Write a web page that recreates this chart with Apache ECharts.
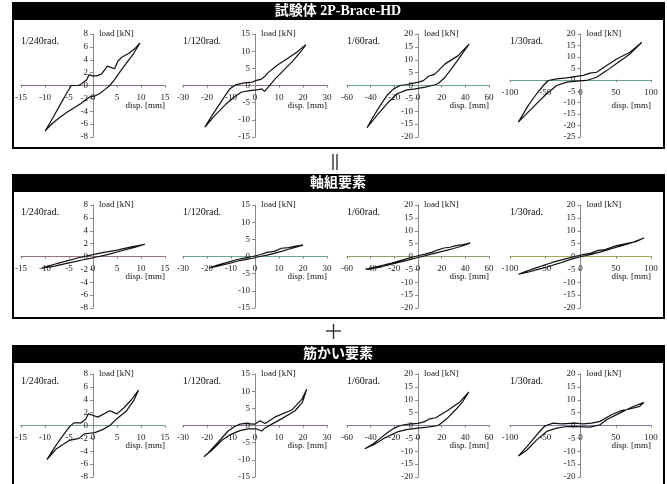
<!DOCTYPE html>
<html>
<head>
<meta charset="utf-8">
<script src="https://cdn.jsdelivr.net/npm/echarts@6/dist/echarts.min.js"></script>
<style>
html, body { margin: 0; padding: 0; background: #fff; }
#main { width: 667px; height: 484px; }
</style>
</head>
<body>
<div id="main"></div>
<script>
// section titles and panel labels
var sectionTitles = ['試験体 2P-Brace-HD', '軸組要素', '筋かい要素'];
var radLabels = ['1/240rad.', '1/120rad.', '1/60rad.', '1/30rad.'];

// x axis: +/- limit and tick step per drift level
var xLimits = [15, 30, 60, 100];
var xSteps = [5, 10, 20, 50];

// y axis [min, max, step] per section / drift level
var yTicks = [
  [[-8, 8, 2], [-15, 15, 5], [-20, 20, 5], [-25, 20, 5]],
  [[-8, 8, 2], [-15, 15, 5], [-20, 20, 5], [-20, 20, 5]],
  [[-8, 8, 2], [-15, 15, 5], [-20, 20, 5], [-20, 20, 5]]
];

// hysteresis loops [disp mm, load kN] -- specimen
var specimen240 = [[9.8,6.6],[8.8,5.8],[7.5,5.0],[6,4.4],[5.2,3.8],[4.5,2.6],[3.0,3.0],[1.8,1.8],[0.8,1.5],[-0.2,1.5],[-0.8,1.7],[-1.3,0.9],[-2.3,0.3],[-3,0],[-4.5,0],[-5.5,-1.2],[-7,-3.2],[-8.5,-5.2],[-10,-7.1],
  [-8.5,-5.9],[-7,-5.0],[-5.5,-4.2],[-4,-3.5],[-2.5,-2.8],[-1.5,-2.2],[-0.5,-1.7],[0.5,-1.6],[1.5,-1.2],[2.5,-0.6],[3.5,0],[4.5,0.9],[5.5,2.0],[7,3.5],[8.5,5.0],[9.8,6.6]];
var specimen120 = [[21.2,11.9],[17.4,9.7],[13.2,7.7],[9.1,5.8],[5.2,3.6],[4.2,2.7],[2.5,1.8],[0.5,1.5],[-1,1.0],[-2.5,0.9],[-5,0.7],[-8,0.2],[-10.5,-1],[-12.5,-3.0],[-14.6,-5.3],[-17.4,-8.2],[-20.9,-12.1],
  [-16.7,-8.7],[-11.9,-5.3],[-8.4,-3.2],[-5.6,-1.9],[-2.1,-1.5],[0.7,-1.3],[2.8,-1.0],[4,-1.7],[5.5,-0.5],[8.5,2],[11.9,4.4],[16,7.3],[19.5,10.2],[21.2,11.9]];
var specimen60 = [[43.1,16.1],[34,11.6],[22.9,8.4],[15.9,5.2],[13.9,4.3],[8.8,3.6],[4.6,1.9],[0.4,1.3],[-3.8,0.9],[-9.4,0.4],[-15,0],[-20.6,-1.3],[-26.3,-3.9],[-31.9,-7.7],[-38.9,-12.9],[-43.1,-16.4],
  [-34.7,-11.6],[-26.3,-7.1],[-17.8,-3.2],[-9.4,-1.7],[-2.4,-1.3],[6,-0.6],[14.5,0.3],[17.3,0.9],[22.9,3.2],[31.3,8.4],[38.3,12.9],[43.1,16.1]];
var specimen30 = [[86.8,16.3],[70.2,12],[51.3,9.1],[37.1,6.2],[22.9,3.3],[13.5,2.9],[4,1.9],[-7.8,1.4],[-19.6,0.8],[-33.8,0.4],[-45.6,-0.3],[-52.7,-2.5],[-62.2,-6.1],[-74,-11.2],[-88.2,-18.5],
  [-76.4,-14.8],[-62.2,-10.4],[-48,-6.1],[-33.8,-2.5],[-19.6,-1],[-5.4,-0.6],[8.7,-0.3],[22.9,1.1],[37.1,4],[53.7,7.7],[70.2,11.3],[86.8,16.3]];

// frame element
var frame240 = [[10.8,1.9],[8,1.5],[5,1.0],[2,0.6],[0,0.3],[-3,-0.2],[-6,-0.8],[-9,-1.4],[-10.7,-1.8],
  [-8,-1.5],[-5,-1.0],[-2,-0.5],[0,-0.2],[3,0.3],[6,0.9],[9,1.5],[10.8,1.9]];
var frame120 = [[20,3.3],[17,3.0],[14,2.6],[11,2.4],[8,1.5],[5,1.2],[2,0.5],[-1,0],[-4,-0.4],[-7,-0.8],[-10,-1.4],[-13,-2.0],[-16,-2.6],[-19,-3.3],
  [-16,-2.9],[-13,-2.4],[-10,-1.9],[-7,-1.3],[-4,-0.9],[-1,-0.5],[2,0],[5,0.4],[8,0.9],[11,1.5],[14,2.1],[17,2.7],[20,3.3]];
var frame60 = [[44,5.2],[38,4.6],[32,4.2],[27,3.6],[22,3.3],[17,2.6],[12,1.7],[6,0.9],[0,0.3],[-6,-0.4],[-12,-1.2],[-18,-2],[-24,-2.8],[-30,-3.4],[-37,-4.2],[-44,-5.0],
  [-37,-4.5],[-30,-3.9],[-24,-3.2],[-18,-2.5],[-12,-1.8],[-6,-1.1],[0,-0.4],[6,0.3],[12,1.0],[18,1.7],[24,2.4],[30,3.1],[36,3.9],[44,5.2]];
var frame30 = [[90,7.2],[80,5.9],[65,5.0],[50,4.1],[35,2.7],[25,2.4],[15,1.3],[5,0.8],[-5,0.2],[-20,-0.8],[-35,-1.9],[-50,-3.2],[-65,-4.6],[-80,-6],[-88,-6.9],
  [-75,-6.1],[-60,-5.0],[-45,-3.9],[-30,-2.6],[-15,-1.2],[0,-0.1],[15,0.8],[30,1.9],[45,3.1],[60,4.3],[75,5.6],[90,7.2]];

// brace element
var brace240 = [[9.5,5.5],[8,4],[6.5,2.8],[5,1.8],[3.5,2.3],[1,1.3],[-0.5,1.7],[-1,1.8],[-1.5,1.0],[-2.5,0.4],[-4,0.4],[-5,-0.3],[-6.5,-1.8],[-8,-3.4],[-9.6,-5.3],
  [-7.6,-3.6],[-4.9,-2.3],[-2.9,-2],[-1.8,-1.3],[-0.8,-1.2],[0.4,-1.1],[2.1,-0.6],[3.5,0],[4.9,1],[6.9,2.2],[8.5,3.9],[9.5,5.5]];
var brace120 = [[21.5,10.5],[19.5,7.6],[15.3,4.5],[8.4,2.5],[4.2,0.6],[2.1,1.4],[0,0.4],[-2,0.5],[-3.9,0.6],[-6.3,0.4],[-8.4,-0.3],[-11.2,-1.6],[-15.3,-4.8],[-19.5,-8],[-21.3,-9.1],
  [-18.1,-7.3],[-13.9,-4.4],[-9.8,-2.5],[-6.3,-1.5],[-2.8,-1],[0.7,-1],[2.8,-1.6],[4.2,-0.7],[7,0.4],[11.2,2],[16.7,4.3],[19.8,6.8],[21.5,10.5]];
var brace60 = [[43,13],[35,9],[25,5.8],[15,3.0],[10,2.6],[5,1.4],[0,0.8],[-8,0.5],[-15,0],[-20,-1],[-26,-2.8],[-32,-5],[-38,-7.2],[-45,-9],
  [-37,-7.4],[-28,-4.8],[-18,-2.6],[-10,-1.6],[0,-1.0],[8,-0.6],[15,-0.2],[18,0.3],[24,2.5],[32,6.2],[38,9.4],[43,13]];
var brace30 = [[90,9],[84,7.4],[70,6.4],[58,5.8],[44,4.2],[27.7,1.6],[15.8,0.9],[4,0.6],[-7.8,0.9],[-26.7,0.6],[-38.5,0.9],[-50.4,-0.1],[-62,-3.6],[-76,-8.2],[-88,-11.8],
  [-76,-9.5],[-62,-5.6],[-48,-2.3],[-33.8,-1],[-19.6,-0.4],[-5,-0.4],[13.5,-0.6],[27.7,0.3],[37,2.2],[56,4.9],[75,7.4],[90,9]];

var loops = [
  [specimen240, specimen120, specimen60, specimen30],
  [frame240, frame120, frame60, frame30],
  [brace240, brace120, brace60, brace30]
];

// layout
var gridLeft = [21, 183, 347, 510];
var gridWidth = [144, 144, 142, 141];
var barTop = [2, 174, 345];
var plotTop = [34, 205, 374];
var plotHeight = 103;
var boxBottom = [148, 318, 520];
var zeroLineColors = [
  ['#8d6a93', '#8d6a93', '#6aa396', '#6aa396'],
  ['#9a6a86', '#6aa396', '#8aa36a', '#a9a360'],
  ['#6aa396', '#8d6a93', '#8d7aa0', '#7a72a8']
];
var serif = '"Liberation Serif", "Times New Roman", serif';

var chart = echarts.init(document.getElementById('main'));
var grids = [], xAxes = [], yAxes = [], series = [], graphics = [];

for (var s = 0; s < 3; s++) {
  graphics.push({
    type: 'rect', shape: { x: 12, y: barTop[s], width: 653, height: 17 },
    style: { fill: '#000' }
  });
  graphics.push({
    type: 'text', x: 338, y: barTop[s] + 9,
    style: {
      text: sectionTitles[s], fill: '#fff', fontSize: 14, fontWeight: 'bold',
      fontFamily: '"Liberation Serif", "Noto Sans CJK JP", sans-serif',
      align: 'center', verticalAlign: 'middle'
    }
  });
  graphics.push({
    type: 'rect', shape: { x: 13, y: barTop[s] + 17, width: 651, height: boxBottom[s] - barTop[s] - 17 },
    style: { fill: 'none', stroke: '#000', lineWidth: 2 }
  });

  for (var p = 0; p < 4; p++) {
    var i = s * 4 + p;
    var yr = yTicks[s][p];
    var gTop = plotTop[s];
    // move the axes onto the zero lines (offset is measured inwards from the grid edge)
    var xAxisShift = -plotHeight * (0 - yr[0]) / (yr[1] - yr[0]);
    var yAxisShift = -gridWidth[p] / 2;
    grids.push({ left: gridLeft[p], top: gTop, width: gridWidth[p], height: plotHeight });
    xAxes.push({
      gridIndex: i, type: 'value', position: 'bottom', offset: xAxisShift,
      min: -xLimits[p], max: xLimits[p], interval: xSteps[p],
      axisLine: { onZero: false, lineStyle: { color: zeroLineColors[s][p], width: 1 } },
      axisTick: { show: true, length: 2, lineStyle: { color: '#777' } },
      axisLabel: { fontSize: 9, color: '#222', fontFamily: serif, margin: 8 },
      splitLine: { show: false }
    });
    yAxes.push({
      gridIndex: i, type: 'value', position: 'left', offset: yAxisShift,
      min: yr[0], max: yr[1], interval: yr[2],
      axisLine: { onZero: false, lineStyle: { color: '#8a8a8a', width: 1 } },
      axisTick: { show: true, length: 3, lineStyle: { color: '#8a8a8a' } },
      axisLabel: { fontSize: 9, color: '#222', fontFamily: serif, margin: 5 },
      splitLine: { show: false }
    });
    series.push({
      type: 'line', xAxisIndex: i, yAxisIndex: i,
      data: loops[s][p], showSymbol: false,
      lineStyle: { color: '#111', width: 1.2 },
      z: 5
    });

    var axisX = gridLeft[p] + gridWidth[p] / 2;
    graphics.push({
      type: 'text', x: gridLeft[p], y: gTop + 7,
      style: { text: radLabels[p], fontSize: 10, fill: '#111', fontFamily: serif, verticalAlign: 'middle' }
    });
    graphics.push({
      type: 'text', x: axisX + 6, y: gTop,
      style: { text: 'load [kN]', fontSize: 9, fill: '#111', fontFamily: serif, verticalAlign: 'middle' }
    });
    graphics.push({
      type: 'text', x: gridLeft[p] + gridWidth[p], y: gTop + 72,
      style: { text: 'disp. [mm]', fontSize: 9, fill: '#111', fontFamily: serif, align: 'right', verticalAlign: 'middle' }
    });
  }
}

// "||" and "+" between the panels
graphics.push({ type: 'line', shape: { x1: 333, y1: 154, x2: 333, y2: 170 }, style: { stroke: '#222', lineWidth: 1.3 } });
graphics.push({ type: 'line', shape: { x1: 337, y1: 154, x2: 337, y2: 170 }, style: { stroke: '#222', lineWidth: 1.3 } });
graphics.push({ type: 'line', shape: { x1: 326, y1: 331, x2: 341, y2: 331 }, style: { stroke: '#222', lineWidth: 1.3 } });
graphics.push({ type: 'line', shape: { x1: 333.5, y1: 324, x2: 333.5, y2: 339 }, style: { stroke: '#222', lineWidth: 1.3 } });

chart.setOption({
  backgroundColor: '#fff',
  animation: false,
  grid: grids,
  xAxis: xAxes,
  yAxis: yAxes,
  series: series,
  graphic: graphics
});
</script>
</body>
</html>
